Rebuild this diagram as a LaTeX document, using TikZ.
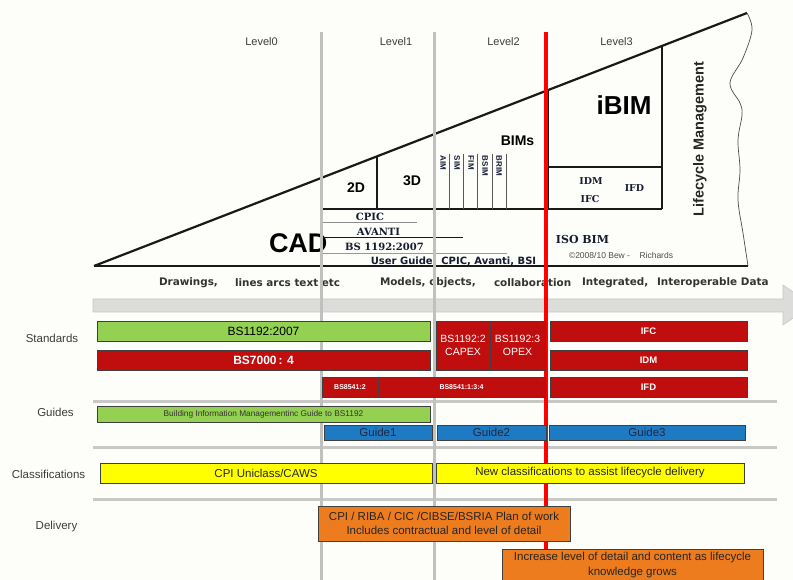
\documentclass[tikz,border=0pt]{standalone}
\usepackage{fontspec}
\setmainfont{Liberation Sans}
\newfontfamily\dvsb{DejaVu Sans}[BoldFont=* Bold]
\newfontfamily\dvserif{DejaVu Serif}[BoldFont=* Bold]
\definecolor{bg}{RGB}{253,253,249}
\definecolor{vgray}{RGB}{192,192,190}
\definecolor{sepgray}{RGB}{200,200,198}
\definecolor{arrowgray}{RGB}{220,220,218}
\definecolor{barGreen}{RGB}{148,208,82}
\definecolor{barRed}{RGB}{192,14,14}
\definecolor{barBlue}{RGB}{30,122,194}
\definecolor{barYellow}{RGB}{255,255,0}
\definecolor{barOrange}{RGB}{236,124,30}
\definecolor{txt}{RGB}{60,60,60}
\definecolor{navy}{RGB}{30,40,70}
\begin{document}
\begin{tikzpicture}[x=1pt,y=-1pt,
  every node/.style={inner sep=0pt, outer sep=0pt},
  tri/.style={line width=2.2pt, black!90},
  inner/.style={line width=1.8pt, black!90},
  bar/.style={draw=black!75, line width=0.7pt, anchor=center},
  gbar/.style={bar, fill=barGreen},
  rbar/.style={bar, fill=barRed, text=white},
  bbar/.style={bar, fill=barBlue, text=navy},
  ybar/.style={bar, fill=barYellow, text=black!85},
  obar/.style={bar, fill=barOrange, text=black!85},
  lvl/.style={font=\fontsize{11}{13}\selectfont, text=txt},
  rowlab/.style={font=\fontsize{11.5}{13}\selectfont, text=txt},
  big/.style={font=\bfseries\fontsize{14}{16}\selectfont},
  serifb/.style={font=\dvserif\bfseries\fontsize{10}{12}\selectfont, text=navy!70!black},
  rowtxt/.style={font=\dvsb\bfseries\fontsize{10.4}{12}\selectfont, text=black!80, anchor=west},
  vsep/.style={line width=3pt, vgray},
  hsep/.style={line width=3pt, sepgray}]
\useasboundingbox (0,0) rectangle (793,580);
\fill[bg] (0,0) rectangle (793,580);

% ---- wedge ----
\node[font=\bfseries\fontsize{27}{30}\selectfont, anchor=west] (cad) at (269,243) {CAD};
\draw[tri] (94,266) -- (747,13);
\draw[tri] (94,266) -- (748,266);
\draw[line width=0.7pt, black!70] plot[smooth, tension=0.6] coordinates {(747,13) (752,30) (743,58) (730,83) (740,103) (742,115) (738,140) (740,170) (738,200) (743,233) (748,266)};
\draw[line width=2.6pt, black!90] (323,209) -- (662,209);
\draw[line width=1.4pt, black!90] (377,156.3) -- (377,209);
\draw[inner] (548,90) -- (548,209);
\draw[inner] (548,167) -- (662,167);
\draw[inner] (662,46) -- (662,209);
\foreach \x in {449,463,477,492,506} \draw[line width=0.8pt, black!65] (\x,154) -- (\x,209);
\draw[line width=0.8pt, black!45] (323,222) -- (417,222);
\draw[line width=0.8pt, black!90] (323,237) -- (463,237);
\draw[line width=0.8pt, black!40] (323,253) -- (507,253);

\node[big] (d2) at (356,187.5) {2D};
\node[big] (d3) at (412,181) {3D};
\node[big] (bims) at (517.5,141) {BIMs};
\node[font=\bfseries\fontsize{26}{28}\selectfont] (ibim) at (624,105) {iBIM};
\foreach \x/\t/\n in {443/AIM/aim,457/SIM/sim,471/FIM/fim,485/BSIM/bsim,499/BRIM/brim}
  \node[font=\bfseries\fontsize{8}{9}\selectfont, text=navy!70!black, rotate=-90, anchor=west] (\n) at (\x,156) {\t};
\node[serifb, font=\dvserif\bfseries\fontsize{9.5}{11}\selectfont] (idm) at (591,181.5) {IDM};
\node[serifb, font=\dvserif\bfseries\fontsize{9.5}{11}\selectfont] (ifcw) at (590,199) {IFC};
\node[serifb, font=\dvserif\bfseries\fontsize{9.5}{11}\selectfont] (ifdw) at (634.5,188) {IFD};
\node[font=\bfseries\fontsize{14.5}{16}\selectfont, rotate=90, text=black!85] (lcm) at (700,139) {Lifecycle Management};
\node[serifb] (cpic) at (370,216.5) {CPIC};
\node[serifb] (avanti) at (378.5,231.5) {AVANTI};
\node[serifb] (bs1192t) at (384.5,246.5) {BS 1192:2007};
\node[font=\dvsb\bfseries\fontsize{10}{11}\selectfont, text=navy!70!black] (ug) at (453.5,261) {User Guide: CPIC, Avanti, BSI};
\node[serifb, font=\dvserif\bfseries\fontsize{11}{13}\selectfont] (iso) at (582.5,239) {ISO BIM};
\node[font=\fontsize{8.5}{10}\selectfont, text=black!70, anchor=west] (copy) at (569,255) {\textcopyright2008/10 Bew -\ \ \ \ Richards};

% level labels
\node[lvl] (l0) at (261.5,42) {Level0};
\node[lvl] (l1) at (396,42) {Level1};
\node[lvl] (l2) at (503.5,42) {Level2};
\node[lvl] (l3) at (616.5,42) {Level3};

% row of text
\node[rowtxt] (r1) at (159,283) {Drawings,};
\node[rowtxt] (r2) at (235,283) {lines arcs text etc};
\node[rowtxt] (r3) at (380,283) {Models, objects,};
\node[rowtxt] (r4) at (494,283) {collaboration};
\node[rowtxt] (r5) at (582,283) {Integrated,};
\node[rowtxt] (r6) at (657,283) {Interoperable Data};

% arrow
\filldraw[fill=arrowgray, draw=black!22, line width=0.6pt] (93,299) -- (783,299) -- (783,285) -- (812,305) -- (783,325) -- (783,312) -- (93,312) -- cycle;

% separators
\draw[hsep] (93,401) -- (777,401);
\draw[hsep] (93,447) -- (777,447);
\draw[hsep] (93,499) -- (777,499);

% vertical lines
\draw[vsep] (321,32) -- (321,580);
\draw[vsep] (434.5,32) -- (434.5,580);
\draw[line width=4pt, red] (546,32) -- (546,580);

% left labels
\node[rowlab] (std) at (52,338) {Standards};
\node[rowlab] (gd) at (55.5,412) {Guides};
\node[rowlab] (cls) at (48.5,474) {Classifications};
\node[rowlab] (dlv) at (56.5,527) {Delivery};

% bars: standards
\node[gbar, minimum width=333pt, minimum height=20pt, font=\fontsize{12}{14}\selectfont] (bs1192) at (263.5,331) {BS1192:2007};
\node[rbar, minimum width=333pt, minimum height=20pt, font=\bfseries\fontsize{12}{14}\selectfont] (bs7000) at (263.5,360) {BS7000\,: 4};
\node[rbar, minimum width=54pt, minimum height=49pt, align=center, font=\fontsize{10.5}{13}\selectfont] (capex) at (463,345.5) {BS1192:2\\CAPEX};
\node[rbar, minimum width=55pt, minimum height=49pt, align=center, font=\fontsize{10.5}{13}\selectfont] (opex) at (517.5,345.5) {BS1192:3\\OPEX};
\node[rbar, minimum width=197pt, minimum height=20pt, font=\bfseries\fontsize{9.5}{11}\selectfont] (ifc) at (648.5,331) {IFC};
\node[rbar, minimum width=197pt, minimum height=20pt, font=\bfseries\fontsize{9.5}{11}\selectfont] (idmb) at (648.5,360) {IDM};
\node[rbar, minimum width=56pt, minimum height=20pt, font=\bfseries\fontsize{7}{8}\selectfont] (bs85a) at (350,387) {BS8541:2};
\node[rbar, minimum width=167pt, minimum height=20pt, font=\bfseries\fontsize{7}{8}\selectfont] (bs85b) at (461.5,387) {BS8541:1:3:4};
\node[rbar, minimum width=197pt, minimum height=20pt, font=\bfseries\fontsize{9.5}{11}\selectfont] (ifd) at (648.5,387) {IFD};

% guides
\node[gbar, minimum width=333pt, minimum height=16pt, font=\fontsize{8.3}{10}\selectfont, text=black!80] (bimg) at (263.5,414) {Building Information Managementinc Guide to BS1192};
\node[bbar, minimum width=108pt, minimum height=15pt, font=\fontsize{11.5}{13}\selectfont] (g1) at (378,432.5) {Guide1};
\node[bbar, minimum width=109pt, minimum height=15pt, font=\fontsize{11.5}{13}\selectfont] (g2) at (491.5,432.5) {Guide2};
\node[bbar, minimum width=196pt, minimum height=15pt, font=\fontsize{11.5}{13}\selectfont] (g3) at (647,432.5) {Guide3};

% classifications
\node[ybar, minimum width=332pt, minimum height=20pt, font=\fontsize{11.5}{13}\selectfont] (uni) at (266,473) {CPI Uniclass/CAWS};
\node[ybar, minimum width=308pt, minimum height=20pt, font=\fontsize{11.5}{13}\selectfont] (newc) at (590,473) {New classifications to assist lifecycle delivery};

% delivery
\node[obar, minimum width=252pt, minimum height=35pt, align=center, font=\fontsize{11.5}{14}\selectfont] (del1) at (444,523.5) {CPI / RIBA / CIC /CIBSE/BSRIA Plan of work\\Includes contractual and level of detail};
\node[obar, minimum width=261pt, minimum height=41pt] (del2) at (632.5,569.5) {};
\node[align=center, font=\fontsize{11.5}{15.5}\selectfont, text=black!85] (del2t) at (632.5,565) {Increase level of detail and content as lifecycle\\knowledge grows};
\end{tikzpicture}
\end{document}
